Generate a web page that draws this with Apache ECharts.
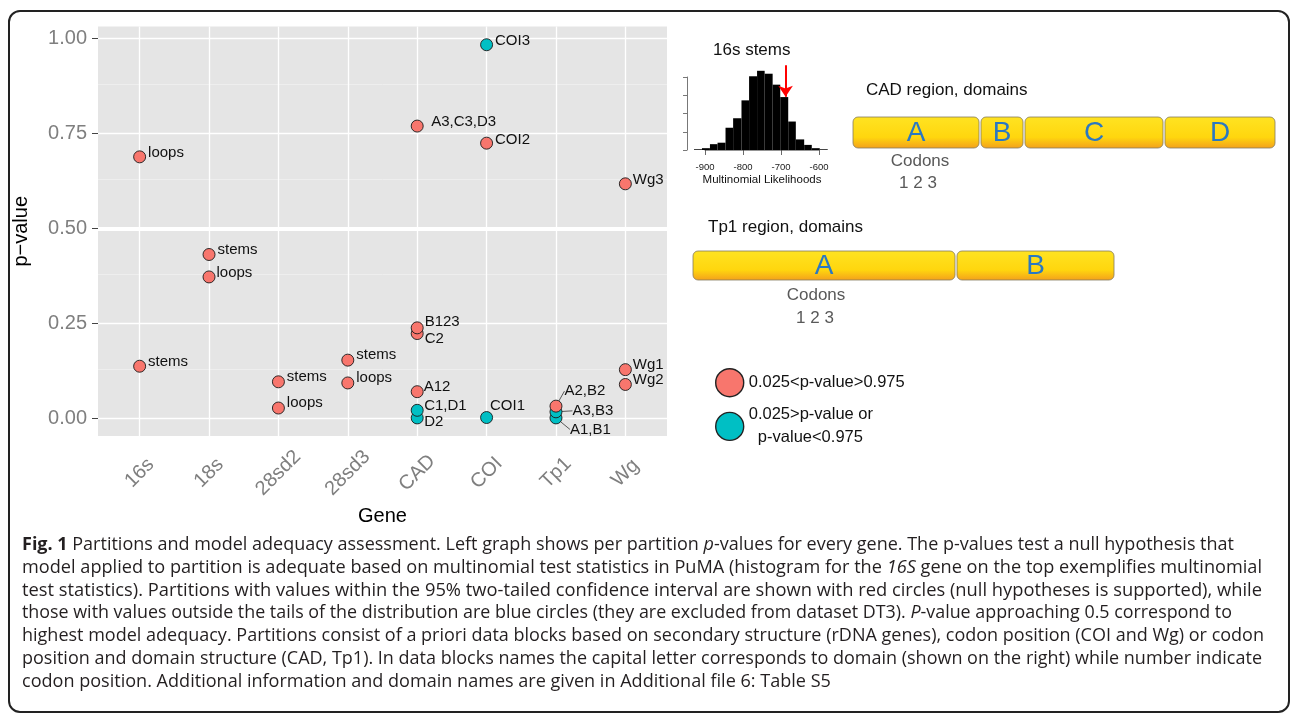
<!DOCTYPE html>
<html>
<head>
<meta charset="utf-8">
<title>Fig. 1 Partitions and model adequacy assessment</title>
<script src="https://cdn.jsdelivr.net/npm/echarts@6/dist/echarts.min.js"></script>
<style>
  html, body { margin: 0; padding: 0; background: #fff; }
  #wrap { position: relative; width: 1292px; height: 724px; overflow: hidden; }
  #chart { position: absolute; left: 0; top: 0; width: 1292px; height: 724px; }
  #frame { position: absolute; left: 8px; top: 10px; width: 1278px; height: 699px;
           border: 2px solid #222; border-radius: 12px; pointer-events: none; }
  #caption { position: absolute; left: 22px; top: 532px; color: #231f20;
             font-family: 'Open Sans', 'Noto Sans', sans-serif;
             font-size: 17.5px; line-height: 22.8px; }
  #caption div { white-space: nowrap; width: max-content; transform-origin: 0 50%; }
</style>
</head>
<body>
<div id="wrap">
  <div id="chart"></div>
  <div id="frame"></div>
  <div id="caption">
    <div data-w="1212"><b>Fig. 1</b> Partitions and model adequacy assessment. Left graph shows per partition <i>p</i>-values for every gene. The p-values test a null hypothesis that</div>
    <div data-w="1240">model applied to partition is adequate based on multinomial test statistics in PuMA (histogram for the <i>16S</i> gene on the top exemplifies multinomial</div>
    <div data-w="1240">test statistics). Partitions with values within the 95% two-tailed confidence interval are shown with red circles (null hypotheses is supported), while</div>
    <div data-w="1210">those with values outside the tails of the distribution are blue circles (they are excluded from dataset DT3). <i>P</i>-value approaching 0.5 correspond to</div>
    <div data-w="1242">highest model adequacy. Partitions consist of a priori data blocks based on secondary structure (rDNA genes), codon position (COI and Wg) or codon</div>
    <div data-w="1240">position and domain structure (CAD, Tp1). In data blocks names the capital letter corresponds to domain (shown on the right) while number indicate</div>
    <div>codon position. Additional information and domain names are given in Additional file 6: Table S5</div>
  </div>
</div>
<script>
// genes on the x axis
const genes = ['16s', '18s', '28sd2', '28sd3', 'CAD', 'COI', 'Tp1', 'Wg'];

// partitions inside the 95% interval (red)
const redGene  = ['16s', '16s', '18s', '18s', '28sd2', '28sd2', '28sd3', '28sd3', 'CAD', 'CAD', 'CAD', 'CAD', 'COI', 'Tp1', 'Wg', 'Wg', 'Wg'];
const redLabel = ['loops', 'stems', 'stems', 'loops', 'stems', 'loops', 'stems', 'loops', 'A3,C3,D3', 'C2', 'B123', 'A12', 'COI2', 'A2,B2', 'Wg3', 'Wg1', 'Wg2'];
const redP     = [0.688, 0.137, 0.431, 0.372, 0.096, 0.027, 0.153, 0.093, 0.769, 0.223, 0.238, 0.070, 0.724, 0.032, 0.617, 0.128, 0.089];

// partitions outside the interval (blue)
const tealGene  = ['CAD', 'CAD', 'COI', 'COI', 'Tp1', 'Tp1'];
const tealLabel = ['D2', 'C1,D1', 'COI3', 'COI1', 'A1,B1', 'A3,B3'];
const tealP     = [0.001, 0.021, 0.983, 0.002, 0.001, 0.017];

// histogram of multinomial likelihoods (16s stems)
const binEdges   = [-929, -908, -887, -867, -846, -826, -804, -784, -763, -743, -722, -702, -681, -661, -639, -619, -598, -577];
const histCounts = [2, 5, 16, 20, 61, 87, 136, 202, 217, 209, 179, 145, 78, 29, 14, 5, 2];
const observedLik = -688;

const yTicks = [0, 0.25, 0.5, 0.75, 1];
const yMinor = [0.125, 0.375, 0.625, 0.875];

// label placement (px from point centre to label's left edge), third item = leader line
const redShift  = [[8, -3.5], [8, -4.5], [8, -4.5], [7, -4.5], [8, -5], [8, -5], [8, -5], [8, -5], [13.5, -4], [7, 5], [7, -6], [6, -5], [8, -3.5], [8, -15, 1], [7, -4], [7, -5], [7, -5]];
const tealShift = [[6.5, 4], [6.5, -4], [8, -3.5], [3, -12], [13.5, 11.5, 1], [16, -1, 1]];

const R = 6;
const RED = '#F8766D', TEAL = '#00BFC4';
const redName = '0.025<p-value>0.975';
const tealName = '0.025>p-value or\n  p-value<0.975';
const FONT = "'Liberation Sans', Arial, Helvetica, sans-serif";

function points(gene, label, p, shift) {
  return p.map((v, i) => ({
    name: label[i],
    value: [genes.indexOf(gene[i]) + 1, v],
    labelLine: { show: !!shift[i][2] }
  }));
}

function scatterSeries(name, color, gene, label, p, shift) {
  return {
    name: name,
    type: 'scatter',
    xAxisIndex: 0,
    yAxisIndex: 0,
    symbolSize: 2 * R,
    itemStyle: { color: color, borderColor: '#1a1a1a', borderWidth: 0.9, opacity: 1 },
    label: {
      show: true,
      formatter: '{b}',
      position: 'right',
      distance: 0,
      fontSize: 15,
      fontFamily: FONT,
      color: '#111'
    },
    labelLine: { lineStyle: { color: '#333', width: 0.8 } },
    labelLayout: (params) => {
      const s = shift[params.dataIndex];
      return { dx: s[0] - R, dy: s[1] };
    },
    emphasis: { disabled: true },
    data: points(gene, label, p, shift),
    z: 3
  };
}

const gridLines = [];
yTicks.forEach((v) => gridLines.push({ yAxis: v, lineStyle: { color: '#fff', width: v === 0.5 ? 4 : 1.3, type: 'solid' } }));
yMinor.forEach((v) => gridLines.push({ yAxis: v, lineStyle: { color: '#f2f2f2', width: 0.7, type: 'solid' } }));
genes.forEach((g, i) => gridLines.push({ xAxis: i + 1, lineStyle: { color: '#fff', width: 1.3, type: 'solid' } }));

const barGrad = {
  type: 'linear', x: 0, y: 0, x2: 0, y2: 1,
  colorStops: [
    { offset: 0, color: '#FFE322' },
    { offset: 0.65, color: '#FFD60E' },
    { offset: 1, color: '#F3A01C' }
  ]
};
function domain(x, y, w, h, letter) {
  return [
    { type: 'rect', shape: { x: x, y: y, width: w, height: h, r: 5 },
      style: { fill: barGrad, stroke: '#857b5e', lineWidth: 0.8 }, silent: true },
    { type: 'text', x: x + w / 2, y: y + h / 2 + 1, silent: true,
      style: { text: letter, fontSize: 28, fontFamily: FONT, fill: '#2a78c3', align: 'center', verticalAlign: 'middle' } }
  ];
}
function txt(x, y, text, size, color, align) {
  return { type: 'text', x: x, y: y, silent: true,
    style: { text: text, fontSize: size, fontFamily: FONT, fill: color, align: align || 'left', verticalAlign: 'middle' } };
}

const graphics = [].concat(
  txt(866, 90, 'CAD region, domains', 17, '#111'),
  domain(853, 117, 126, 31, 'A'),
  domain(981, 117, 42, 31, 'B'),
  domain(1025, 117, 138, 31, 'C'),
  domain(1165, 117, 110, 31, 'D'),
  txt(920, 161, 'Codons', 17, '#595959', 'center'),
  txt(918, 183, '1 2 3', 17, '#595959', 'center'),
  txt(708, 227, 'Tp1 region, domains', 17, '#111'),
  domain(693, 251, 262, 29, 'A'),
  domain(957, 251, 157, 29, 'B'),
  txt(816, 295, 'Codons', 17, '#595959', 'center'),
  txt(815, 318, '1 2 3', 17, '#595959', 'center')
);

const chart = echarts.init(document.getElementById('chart'), null, { renderer: 'canvas' });

chart.setOption({
  animation: false,
  backgroundColor: 'transparent',
  textStyle: { fontFamily: FONT },
  title: {
    text: '16s stems',
    left: 708,
    top: 37,
    textStyle: { fontSize: 17, fontWeight: 'normal', color: '#111', fontFamily: FONT }
  },
  legend: {
    data: [redName, tealName],
    orient: 'vertical',
    left: 710,
    top: 363,
    itemWidth: 28,
    itemHeight: 28,
    itemGap: 6,
    icon: 'circle',
    selectedMode: false,
    itemStyle: { borderColor: '#222', borderWidth: 1.4 },
    textStyle: { fontSize: 16.5, color: '#111', lineHeight: 23, fontFamily: FONT }
  },
  grid: [
    { left: 98, top: 26.5, width: 569, height: 409.5, show: true, backgroundColor: '#E5E5E5', borderWidth: 0, outerBoundsMode: 'none' },
    { left: 705, top: 77, width: 114, height: 73, outerBoundsMode: 'none' }
  ],
  xAxis: [
    {
      type: 'value', gridIndex: 0, min: 0.4, max: 8.6,
      name: 'Gene', nameLocation: 'middle', nameGap: 59,
      nameTextStyle: { fontSize: 20, color: '#000', fontFamily: FONT },
      axisLine: { show: false },
      axisTick: { show: true, length: 6, customValues: [1, 2, 3, 4, 5, 6, 7, 8], lineStyle: { color: '#444', width: 1 } },
      axisLabel: {
        customValues: [1, 2, 3, 4, 5, 6, 7, 8],
        formatter: (v) => genes[Math.round(v) - 1],
        rotate: 45, align: 'center', verticalAlign: 'middle', margin: 37,
        fontSize: 20, color: '#7F7F7F', fontFamily: FONT
      },
      splitLine: { show: false }
    },
    {
      type: 'value', gridIndex: 1, min: -900, max: -600, interval: 100, offset: 4,
      name: 'Multinomial Likelihoods', nameLocation: 'middle', nameGap: 20,
      nameTextStyle: { fontSize: 11.5, color: '#111', fontFamily: FONT },
      axisLine: { show: true, lineStyle: { color: '#666', width: 0.7 } },
      axisTick: { show: true, length: 5, lineStyle: { color: '#444', width: 0.8 } },
      axisLabel: { fontSize: 9.5, color: '#222', margin: 8, fontFamily: FONT },
      splitLine: { show: false }
    }
  ],
  yAxis: [
    {
      type: 'value', gridIndex: 0, min: -0.0466, max: 1.031,
      name: 'p\u2212value', nameLocation: 'middle', nameGap: 67,
      nameTextStyle: { fontSize: 20, color: '#000', fontFamily: FONT },
      axisLine: { show: false },
      axisTick: { show: true, length: 6, customValues: yTicks, lineStyle: { color: '#444', width: 1 } },
      axisLabel: {
        customValues: yTicks,
        formatter: (v) => v.toFixed(2),
        margin: 11, fontSize: 20, color: '#7F7F7F', fontFamily: FONT
      },
      splitLine: { show: false }
    },
    {
      type: 'value', gridIndex: 1, min: 0, max: 200, interval: 50, offset: 18,
      axisLine: { show: true, lineStyle: { color: '#555', width: 0.8 } },
      axisTick: { show: true, length: 4, lineStyle: { color: '#555', width: 0.8 } },
      axisLabel: { show: false },
      splitLine: { show: false }
    }
  ],
  series: [
    {
      type: 'scatter', xAxisIndex: 0, yAxisIndex: 0, data: [], silent: true, z: 1,
      markLine: {
        silent: true, z: 1, symbol: ['none', 'none'], animation: false,
        label: { show: false }, emphasis: { disabled: true },
        data: gridLines
      }
    },
    scatterSeries(tealName, TEAL, tealGene, tealLabel, tealP, tealShift),
    scatterSeries(redName, RED, redGene, redLabel, redP, redShift),
    {
      type: 'custom',
      xAxisIndex: 1,
      yAxisIndex: 1,
      clip: false,
      silent: true,
      data: histCounts.map((c, i) => [binEdges[i], binEdges[i + 1], c]),
      renderItem: (params, api) => {
        const top = api.coord([api.value(0), api.value(2)]);
        const bottom = api.coord([api.value(1), 0]);
        return {
          type: 'rect',
          shape: { x: top[0], y: top[1], width: bottom[0] - top[0], height: bottom[1] - top[1] },
          style: { fill: '#000' }
        };
      }
    },
    {
      // red arrow marking the observed value
      type: 'lines',
      coordinateSystem: 'cartesian2d',
      xAxisIndex: 1,
      yAxisIndex: 1,
      clip: false,
      silent: true,
      z: 6,
      symbol: ['none', 'arrow'],
      symbolSize: [9, 11],
      lineStyle: { color: '#ff0000', width: 2, opacity: 1, curveness: 0 },
      data: [{ coords: [[observedLik, 232], [observedLik, 146]] }]
    }
  ],
  graphic: graphics
});

// fit caption lines to the widths of the printed figure
(function fitCaption() {
  const lines = document.querySelectorAll('#caption div');
  let sum = 0, n = 0;
  lines.forEach((el) => {
    const w = +el.getAttribute('data-w');
    if (!w) return;
    const s = w / el.getBoundingClientRect().width;
    el.style.transform = 'scaleX(' + s + ')';
    sum += s; n++;
  });
  const avg = n ? sum / n : 1;
  lines.forEach((el) => { if (!el.getAttribute('data-w')) el.style.transform = 'scaleX(' + avg + ')'; });
})();
</script>
</body>
</html>
